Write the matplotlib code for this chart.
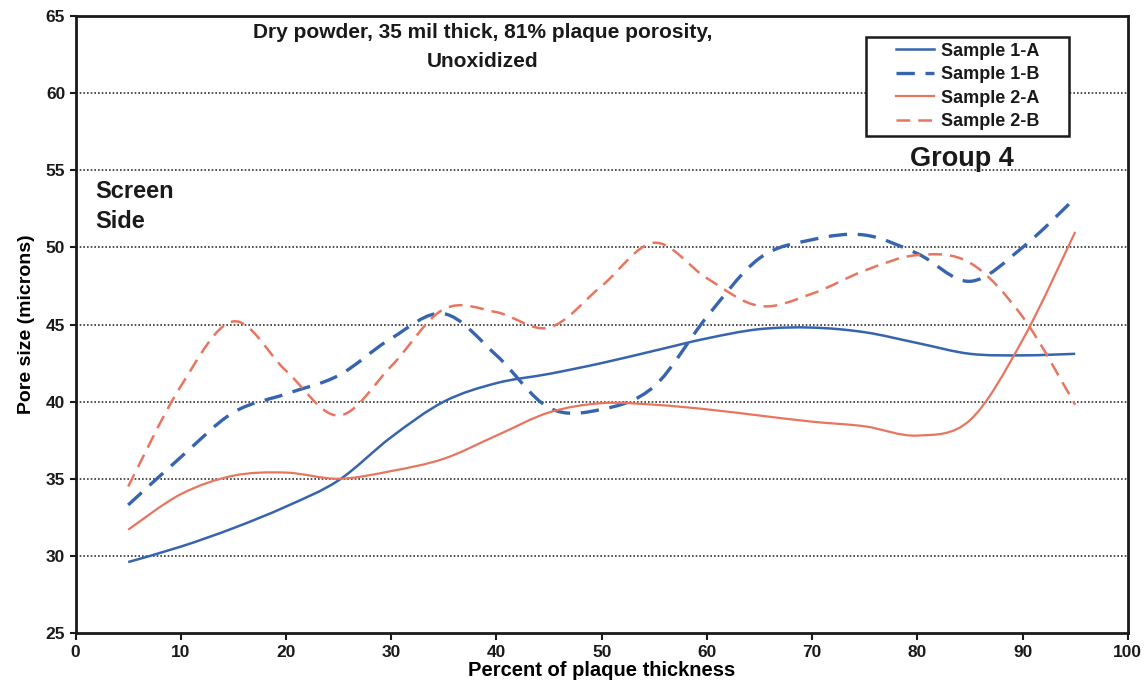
import numpy as np
import matplotlib.pyplot as plt
from matplotlib.path import Path
from matplotlib.patches import PathPatch, Rectangle
from matplotlib.lines import Line2D

plt.rcParams['font.family'] = ['Liberation Sans', 'DejaVu Sans']
plt.rcParams['font.weight'] = 'bold'

# percent of plaque thickness
thickness = [5, 10, 15, 20, 25, 30, 35, 40, 45, 50, 55, 60, 65, 70, 75, 80, 85, 90, 95]

# pore size in microns
sample_1a = [29.6, 30.6, 31.8, 33.2, 34.9, 37.7, 40.0, 41.2, 41.8, 42.5, 43.3, 44.1, 44.7, 44.8, 44.5, 43.8, 43.1, 43.0, 43.1]
sample_1b = [33.3, 36.4, 39.3, 40.5, 41.7, 44.1, 45.7, 43.0, 39.6, 39.5, 41.0, 45.5, 49.3, 50.5, 50.8, 49.6, 47.8, 50.0, 53.2]
sample_2a = [31.7, 34.0, 35.2, 35.4, 35.0, 35.5, 36.3, 37.8, 39.3, 39.9, 39.8, 39.5, 39.1, 38.7, 38.4, 37.8, 38.8, 44.0, 51.0]
sample_2b = [34.5, 41.0, 45.2, 42.0, 39.1, 42.3, 46.0, 45.8, 44.8, 47.5, 50.3, 48.0, 46.2, 47.0, 48.5, 49.5, 49.0, 45.5, 39.8]

labels = ['Sample 1-A', 'Sample 1-B', 'Sample 2-A', 'Sample 2-B']

BLUE = '#3664ae'
RED = '#e8755f'
INK = '#1a1a1a'


def smooth_path(x, y):
    # cubic bezier through every point, spreadsheet-style smoothed line
    x = np.asarray(x, float)
    y = np.asarray(y, float)
    n = len(x)
    verts = [(x[0], y[0])]
    codes = [Path.MOVETO]
    for i in range(n - 1):
        i0 = max(i - 1, 0)
        i3 = min(i + 2, n - 1)
        c1 = (x[i] + (x[i + 1] - x[i0]) / 6, y[i] + (y[i + 1] - y[i0]) / 6)
        c2 = (x[i + 1] - (x[i3] - x[i]) / 6, y[i + 1] - (y[i3] - y[i]) / 6)
        verts += [c1, c2, (x[i + 1], y[i + 1])]
        codes += [Path.CURVE4] * 3
    return Path(verts, codes)


fig = plt.figure(figsize=(11.45, 6.96), dpi=100)
ax = fig.add_axes([0.066, 0.0905, 0.919, 0.8865])

styles = [
    (sample_1a, BLUE, '-', 1.8),
    (sample_1b, BLUE, (0, (5.5, 3.2)), 2.4),
    (sample_2a, RED, '-', 1.6),
    (sample_2b, RED, (0, (5.5, 3.2)), 1.8),
]

handles = []
for (vals, col, ls, lw), lab in zip(styles, labels):
    patch = PathPatch(smooth_path(thickness, vals), facecolor='none', edgecolor=col,
                      linestyle=ls, linewidth=lw, capstyle='butt', zorder=3)
    ax.add_patch(patch)
    handles.append(Line2D([], [], color=col, linestyle=ls, linewidth=lw))

ax.set_xlim(0, 100)
ax.set_ylim(25, 65)
ax.set_xticks(np.arange(0, 101, 10))
ax.set_yticks(np.arange(25, 66, 5))
ax.tick_params(axis='both', labelsize=12.5, length=5, width=1.5, direction='out', colors=INK)
for lab in ax.get_xticklabels() + ax.get_yticklabels():
    lab.set_fontweight('bold')
ax.tick_params(axis='y', length=4)

for s in ax.spines.values():
    s.set_linewidth(2)
    s.set_color(INK)

for yv in range(30, 61, 5):
    ax.axhline(yv, color='#333333', linestyle=(0, (1, 1.2)), linewidth=1.2, zorder=1)

ax.set_xlabel('Percent of plaque thickness', fontsize=14.5, fontweight='bold', labelpad=1)
ax.set_ylabel('Pore size (microns)', fontsize=14, fontweight='bold', labelpad=8)

ax.text(38.7, 63.0, 'Dry powder, 35 mil thick, 81% plaque porosity,\nUnoxidized',
        ha='center', va='center', fontsize=15, fontweight='bold', color=INK, linespacing=1.65)
ax.text(1.9, 52.67, 'Screen\nSide', ha='left', va='center', fontsize=17,
        fontweight='bold', color=INK, linespacing=1.4)
ax.text(84.2, 55.7, 'Group 4', ha='center', va='center', fontsize=19.5,
        fontweight='bold', color=INK)

# legend box drawn separately so the side margins can be wider than the top/bottom
ax.add_patch(Rectangle((0.751, 0.8055), 0.193, 0.1605, transform=ax.transAxes,
                       facecolor='white', edgecolor=INK, linewidth=1.8, zorder=4))
leg = ax.legend(handles, labels, loc='center', bbox_to_anchor=(0.8475, 0.886),
                fontsize=13, frameon=False, handlelength=2.1, borderpad=0,
                labelspacing=0.36, handletextpad=0.4)
leg.set_zorder(5)
for t in leg.get_texts():
    t.set_fontweight('bold')
    t.set_color(INK)

fig.savefig('out.png', dpi=100)
